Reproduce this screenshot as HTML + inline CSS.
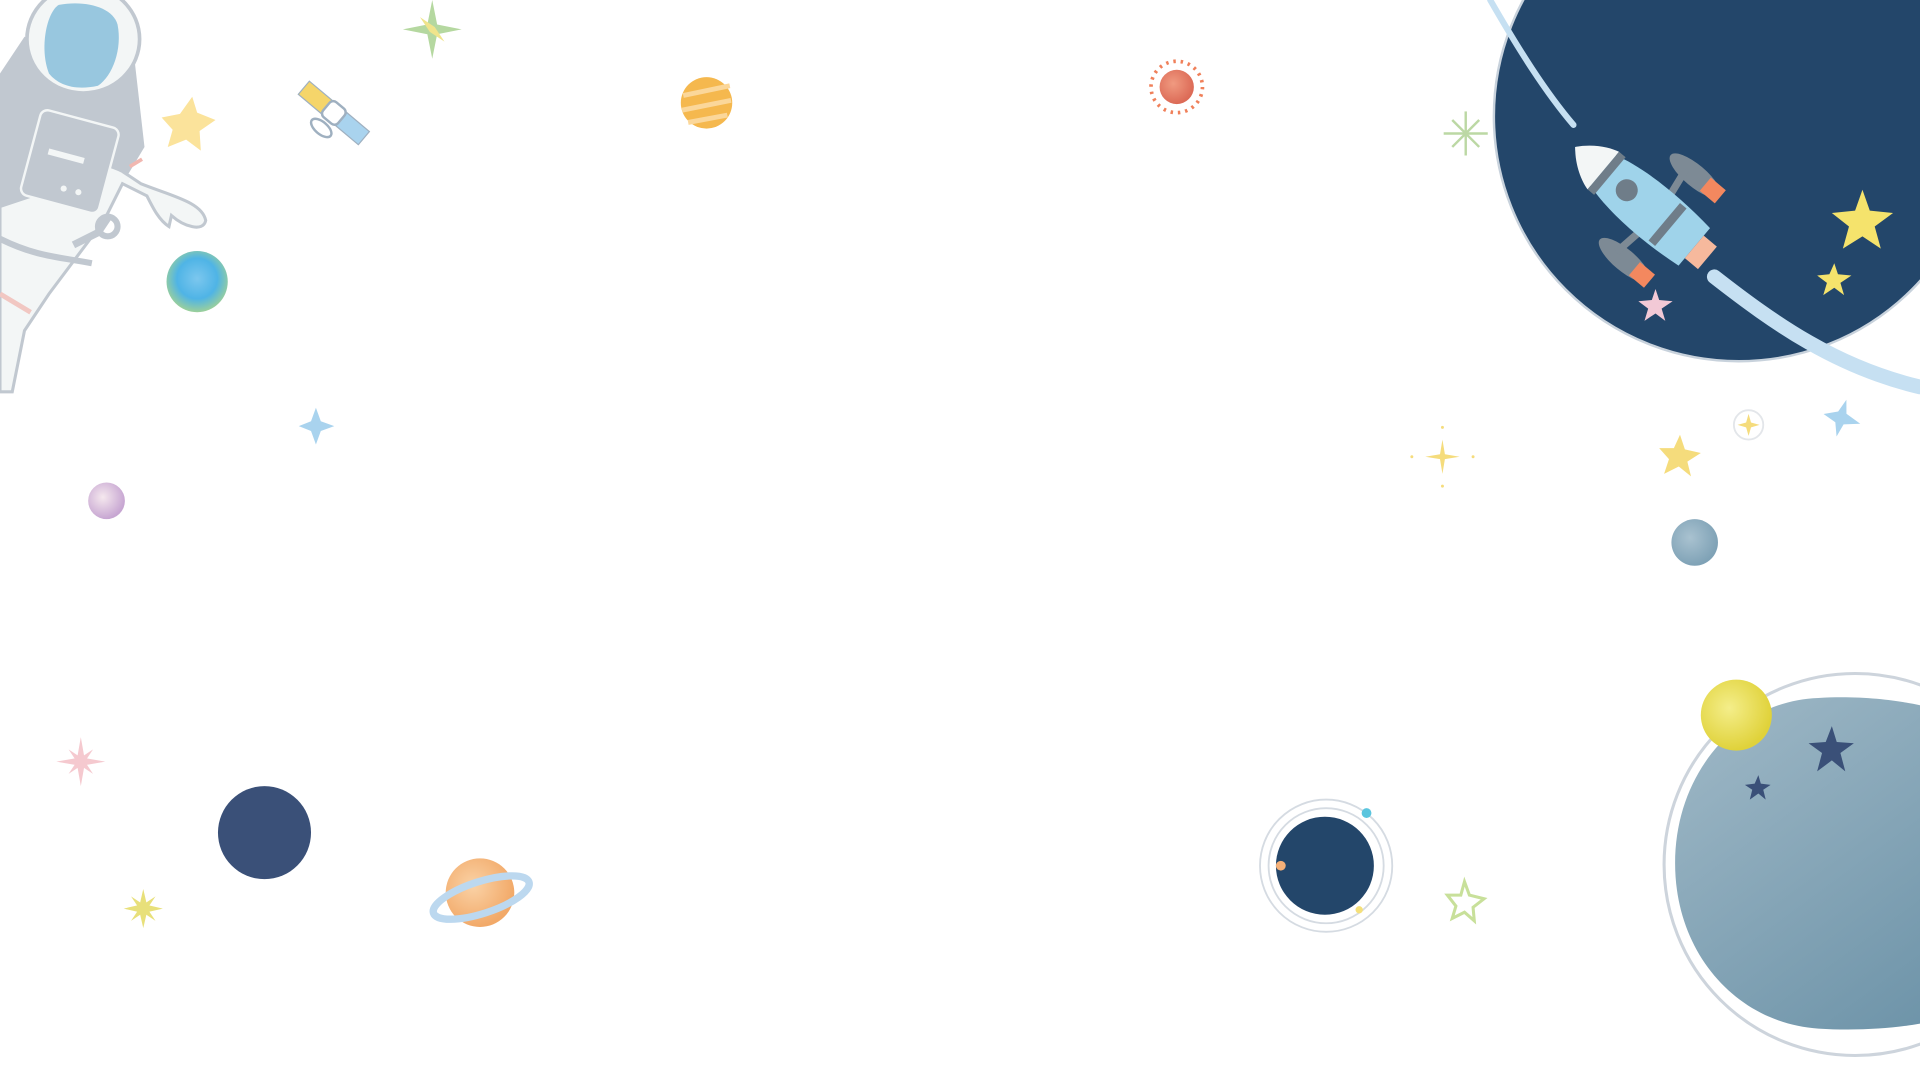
<!DOCTYPE html>
<html><head><meta charset="utf-8"><style>
html,body{margin:0;padding:0;background:#fff;overflow:hidden}
svg{display:block}
</style></head><body>
<svg width="1920" height="1080" viewBox="0 0 1568 882" xmlns="http://www.w3.org/2000/svg">
<defs>
<radialGradient id="earth" cx="50%" cy="45%" r="55%"><stop offset="0" stop-color="#7cc7ee"/><stop offset="0.6" stop-color="#4fb4e6"/><stop offset="1" stop-color="#9cd09a"/></radialGradient>
<linearGradient id="blob" gradientUnits="userSpaceOnUse" x1="1370" y1="570" x2="1568" y2="840"><stop offset="0" stop-color="#a0b9c7"/><stop offset="1" stop-color="#6e94a9"/></linearGradient>
<radialGradient id="yel" cx="40%" cy="40%" r="60%"><stop offset="0" stop-color="#f4ee8a"/><stop offset="1" stop-color="#e0d23a"/></radialGradient>
<radialGradient id="sat" cx="40%" cy="40%" r="60%"><stop offset="0" stop-color="#fad2a6"/><stop offset="1" stop-color="#f2a968"/></radialGradient>
<radialGradient id="pink" cx="40%" cy="40%" r="60%"><stop offset="0" stop-color="#f5e8ee"/><stop offset="1" stop-color="#c7a6d2"/></radialGradient>
<radialGradient id="red" cx="40%" cy="40%" r="60%"><stop offset="0" stop-color="#f09a80"/><stop offset="1" stop-color="#dc6a56"/></radialGradient>
<radialGradient id="grey" cx="40%" cy="40%" r="60%"><stop offset="0" stop-color="#a9c2d0"/><stop offset="1" stop-color="#7fa2b6"/></radialGradient>
</defs>

<!-- astronaut -->
<g>
<path d="M0 60 L20 30 L110 50 L118 120 L100 150 L40 140 L0 150Z" fill="#c1c8d0"/>
<path d="M0 150 C30 150 60 120 100 140 L115 150 C140 160 165 165 168 180 C166 190 150 185 140 176 L138 185 C130 180 125 170 120 160 L100 150 L85 180 L70 200 L40 240 L20 270 L10 320 L0 320Z" fill="#f3f6f6" stroke="#c1c8d0" stroke-width="2.5"/>
<path d="M0 120 L40 100 L60 120 L30 160 L0 170Z" fill="#c1c8d0"/>
<ellipse cx="68" cy="32" rx="46" ry="44" fill="#f3f6f6" stroke="#c1c8d0" stroke-width="3"/>
<path d="M48 4 C70 0 92 6 96 20 C100 40 92 62 80 70 C62 74 48 70 40 60 C32 40 38 10 48 4Z" fill="#98c7df"/>
<rect x="24" y="96" width="66" height="72" rx="6" transform="rotate(15 57 132)" fill="#c1c8d0" stroke="#f3f6f6" stroke-width="2"/>
<rect x="38" y="126" width="30" height="5" fill="#f3f6f6" transform="rotate(15 57 132)"/>
<circle cx="52" cy="154" r="2.5" fill="#f3f6f6"/><circle cx="64" cy="157" r="2.5" fill="#f3f6f6"/>
<path d="M60 200 L80 190 L90 175" stroke="#c1c8d0" stroke-width="6" fill="none"/>
<circle cx="88" cy="185" r="8" fill="none" stroke="#c1c8d0" stroke-width="5"/>
<path d="M0 195 C30 210 50 210 75 215" stroke="#c1c8d0" stroke-width="5" fill="none"/>
<path d="M0 240 L25 255" stroke="#f1c7c2" stroke-width="4"/>
<path d="M106 136 L116 130" stroke="#f1b7b0" stroke-width="3"/>
</g>
<polygon points="183,27 187,40 202,46 189,55 190,71 178,62 163,68 167,54 158,44 173,41" transform="translate(-26,52)" fill="#fbe39b"/>
<!-- satellite -->
<g transform="rotate(40 272 93)">
<rect x="240" y="85" width="24" height="14" fill="#f5d56a" stroke="#9fb0c0"/>
<rect x="280" y="85" width="24" height="14" fill="#a9d3ee" stroke="#9fb0c0"/>
<rect x="264" y="84" width="16" height="16" rx="4" fill="#fff" stroke="#9fb0c0" stroke-width="2"/>
<ellipse cx="272" cy="108" rx="10" ry="5" fill="none" stroke="#9fb0c0" stroke-width="2"/>
</g>
<circle cx="161" cy="230" r="25" fill="url(#earth)"/>
<g transform="translate(353,24)" fill="#b5d8a0"><polygon points="0,-24 4,-4 24,0 4,4 0,24 -4,4 -24,0 -4,-4"/><polygon points="-10,-10 2,-2 10,10 -2,2" fill="#f0e48b"/></g>
<circle cx="577" cy="84" r="21" fill="#f5b84e"/>
<path d="M558 78 L596 70 M557 90 L597 82 M562 100 L594 94" stroke="#fbd79a" stroke-width="4"/>
<circle cx="961" cy="71" r="21" fill="none" stroke="#f0805a" stroke-width="3" stroke-dasharray="2 4"/>
<circle cx="961" cy="71" r="14" fill="url(#red)"/>
<polygon points="258,333 262,344 273,348 262,352 258,363 254,352 244,348 254,344" fill="#a9d3ee"/>
<circle cx="87" cy="409" r="15" fill="url(#pink)"/>
<g transform="translate(66,622)" fill="#f5c9cf"><polygon points="0,-20 3,-3 20,0 3,3 0,20 -3,3 -20,0 -3,-3"/><polygon points="-10,-10 2,-2 10,10 -2,2"/><polygon points="10,-10 2,2 -10,10 -2,-2"/></g>
<g transform="translate(117,742)" fill="#e8e07a"><polygon points="0,-16 3,-3 16,0 3,3 0,16 -3,3 -16,0 -3,-3"/><polygon points="-10,-10 2,-2 10,10 -2,2"/><polygon points="10,-10 2,2 -10,10 -2,-2"/></g>
<circle cx="216" cy="680" r="38" fill="#3a5078"/>
<circle cx="392" cy="729" r="28" fill="url(#sat)"/>
<ellipse cx="393" cy="733" rx="41" ry="13" transform="rotate(-18 393 733)" fill="none" stroke="#bcd8ef" stroke-width="6"/>
<circle cx="1083" cy="707" r="54" fill="none" stroke="#d5dbe2" stroke-width="1.5"/>
<circle cx="1083" cy="707" r="47" fill="none" stroke="#d5dbe2" stroke-width="1.5"/>
<circle cx="1082" cy="707" r="40" fill="#23466a"/>
<circle cx="1116" cy="664" r="4" fill="#5bc5de"/>
<circle cx="1046" cy="707" r="4" fill="#f5b078"/>
<circle cx="1110" cy="743" r="3" fill="#f5e07a"/>
<polygon points="1196,720 1200,731 1212,734 1203,741 1204,752 1196,745 1186,750 1189,740 1182,731 1193,731" fill="none" stroke="#c8e09a" stroke-width="2.5"/>
<g transform="translate(1197,109)" stroke="#bcd8a4" stroke-width="2"><line x1="-18" y1="0" x2="18" y2="0"/><line x1="0" y1="-18" x2="0" y2="18"/><line x1="-11" y1="-11" x2="11" y2="11"/><line x1="11" y1="-11" x2="-11" y2="11"/></g>
<g transform="translate(1178,373)" fill="#f5dc7c"><polygon points="0,-14 2,-2 14,0 2,2 0,14 -2,2 -14,0 -2,-2"/><circle cx="0" cy="-24" r="1.2"/><circle cx="0" cy="24" r="1.2"/><circle cx="-25" cy="0" r="1.2"/><circle cx="25" cy="0" r="1.2"/></g>
<circle cx="1428" cy="347" r="12" fill="none" stroke="#e3e6ea" stroke-width="1.5"/>
<polygon points="1428,338 1430,345 1437,347 1430,349 1428,356 1426,349 1419,347 1426,345" fill="#f5dc7c"/>
<polygon points="1372,355 1376,367 1389,370 1378,377 1381,389 1371,381 1359,387 1363,375 1355,366 1367,366" fill="#f5dc7c"/>
<polygon points="1504,326 1507,337 1520,342 1507,346 1504,357 1500,346 1489,342 1500,337" fill="#a9d3ee" transform="rotate(15 1504 341)"/>
<circle cx="1384" cy="443" r="19" fill="url(#grey)"/>
<!-- big dark planet -->
<circle cx="1420" cy="95" r="200" fill="#23466a" stroke="#c8d2dc" stroke-width="2"/>
<path d="M1217 0 C1240 40 1262 75 1285 102" stroke="#c6e0f2" stroke-width="5" fill="none" stroke-linecap="round"/>
<path d="M1400 226 C1450 265 1500 300 1568 316" stroke="#c6e0f2" stroke-width="12" fill="none" stroke-linecap="round"/>
<!-- rocket -->
<g transform="rotate(-50 1340 165)">
<ellipse cx="1295" cy="185" rx="9" ry="26" fill="#7d8a95"/>
<ellipse cx="1385" cy="185" rx="9" ry="26" fill="#7d8a95"/>
<rect x="1288" y="196" width="14" height="16" fill="#f3885f"/>
<rect x="1378" y="196" width="14" height="16" fill="#f3885f"/>
<path d="M1322 180 L1296 176 M1358 180 L1384 176" stroke="#7d8a95" stroke-width="6"/>
<path d="M1340 95 C1362 115 1366 170 1360 222 L1320 222 C1314 170 1318 115 1340 95Z" fill="#9fd3ea"/>
<path d="M1340 95 C1352 105 1358 117 1360 125 L1320 125 C1322 117 1328 105 1340 95Z" fill="#f3f6f6"/>
<rect x="1320" y="125" width="40" height="7" fill="#6f7d89"/>
<rect x="1320" y="190" width="40" height="7" fill="#6f7d89"/>
<circle cx="1340" cy="150" r="9" fill="#6f7d89"/>
<rect x="1328" y="222" width="24" height="14" fill="#f6b99d"/>
</g>
<polygon points="1521,155 1527,172 1546,174 1531,185 1536,203 1521,193 1505,203 1510,185 1496,174 1515,172" fill="#f5e36c"/>
<polygon points="1498,215 1501,224 1512,225 1503,231 1506,241 1498,235 1489,241 1492,231 1484,225 1494,224" fill="#f5e36c"/>
<polygon points="1352,236 1355,245 1366,246 1357,252 1360,262 1352,256 1343,262 1346,252 1338,246 1349,245" fill="#f2c9d6"/>
<!-- bottom right planet -->
<circle cx="1515" cy="706" r="156" fill="none" stroke="#cdd4dc" stroke-width="2.5"/>
<path d="M1485 570 C1520 568 1550 572 1568 576 L1568 836 C1545 840 1515 842 1485 840 C1420 836 1368 780 1368 705 C1368 630 1420 572 1485 570Z" fill="url(#blob)"/>
<circle cx="1418" cy="584" r="29" fill="url(#yel)"/>
<polygon points="1496,593 1500,606 1514,607 1503,615 1507,630 1496,621 1484,630 1488,615 1477,607 1491,606" fill="#3a5078"/>
<polygon points="1436,633 1438,640 1446,641 1440,645 1442,653 1436,648 1429,653 1431,645 1425,641 1433,640" fill="#3a5078"/>
</svg>
</body></html>
